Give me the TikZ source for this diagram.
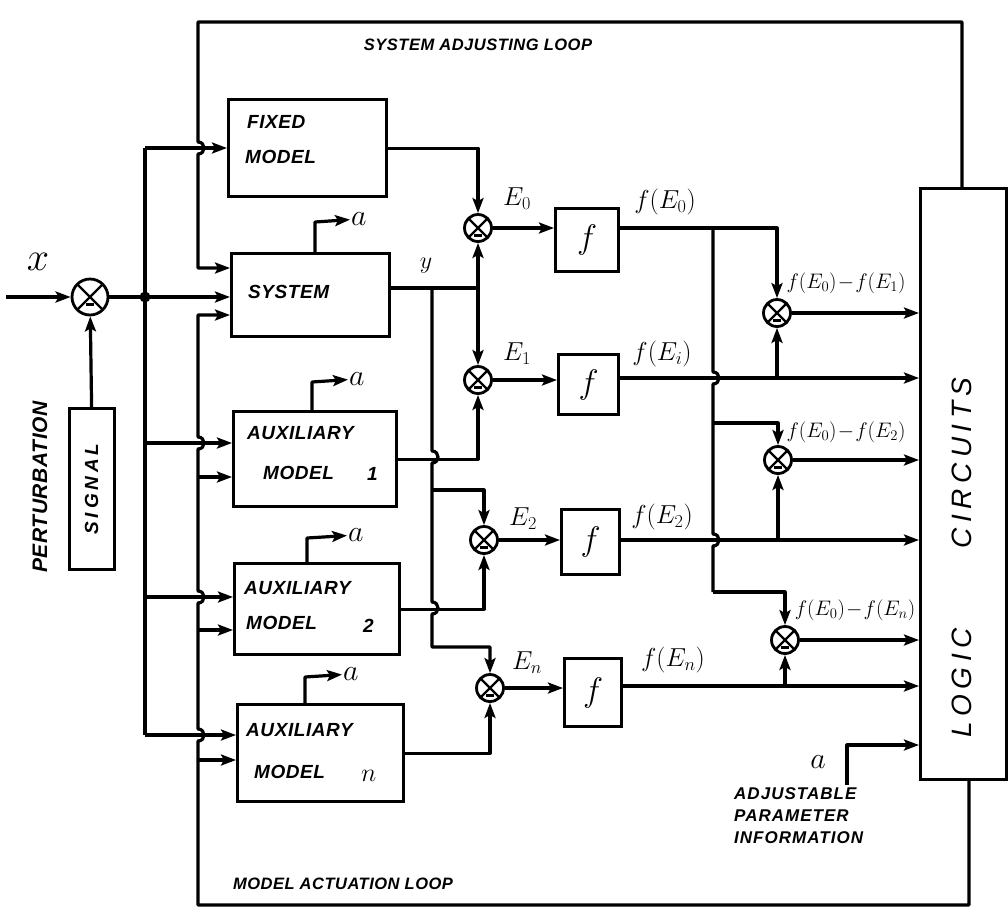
\RequirePackage{fix-cm}
\documentclass[tikz,border=0pt]{standalone}
\usepackage{fontspec}
\setmainfont{Liberation Sans}
\newfontfamily\hand[LetterSpace=3]{Liberation Sans}
\newfontfamily\handm[LetterSpace=6]{Liberation Sans}
\newfontfamily\handw[LetterSpace=20]{Liberation Sans}
\usetikzlibrary{arrows.meta}
\begin{document}
\begin{tikzpicture}[x=1pt,y=-1pt]
\tikzset{
  wire/.style={line width=3.2pt, line join=round},
  arr/.style={wire, -{Stealth[length=15pt,width=11pt,inset=3pt]}},
  blk/.style={draw, line width=3.2pt, anchor=north west, inner sep=0pt},
  sj/.style={circle, draw, line width=2.8pt, minimum size=27pt, inner sep=0pt,
    path picture={\draw[line width=2.2pt] (path picture bounding box.north west) -- (path picture bounding box.south east)
      (path picture bounding box.north east) -- (path picture bounding box.south west);
      \draw[line width=3pt] ([xshift=-4pt,yshift=-7pt]path picture bounding box.center) -- ++(8pt,0pt);}},
  txt/.style={font=\hand\bfseries\itshape\fontsize{19}{24}\selectfont, inner sep=1pt},
  ttl/.style={font=\hand\bfseries\itshape\fontsize{16.5}{20}\selectfont, inner sep=1pt},
  wtxt/.style={font=\handw\itshape\fontsize{28}{32}\selectfont, inner sep=1pt, rotate=90},
  mth/.style={font=\fontsize{26}{30}\selectfont, inner sep=1pt},
  flab/.style={font=\fontsize{26}{30}\selectfont, inner sep=1pt},
  smth/.style={font=\fontsize{21}{24}\selectfont, inner sep=1pt},
  fbox/.style={blk, font=\fontsize{34}{38}\selectfont},
  alab/.style={font=\fontsize{30}{32}\selectfont, inner sep=1pt}
}
\useasboundingbox (0,0) rectangle (1008,922);

% ---------------- blocks ----------------
\node[blk, minimum width=158pt, minimum height=97pt] (fixed) at (227,98) {};
\node[blk, minimum width=158pt, minimum height=83pt] (system) at (230,252) {};
\node[blk, minimum width=163pt, minimum height=95pt] (aux1) at (232,410) {};
\node[blk, minimum width=165pt, minimum height=91pt] (aux2) at (233,562) {};
\node[blk, minimum width=166pt, minimum height=97pt] (auxn) at (236,703) {};
\node[fbox, minimum width=63pt, minimum height=63pt] (f0) at (554,207) {$f$};
\node[fbox, minimum width=60pt, minimum height=60pt] (f1) at (557,353) {$f$};
\node[fbox, minimum width=58pt, minimum height=65pt] (f2) at (560,508) {$f$};
\node[fbox, minimum width=57pt, minimum height=68pt] (fn) at (563,657) {$f$};
\node[blk, minimum width=45pt, minimum height=161pt] (signal) at (67.5,407) {};
\node[blk, minimum width=86pt, minimum height=591pt] (logic) at (919,187) {};

% block labels
\node[txt, anchor=west] (lfixed1) at (246,122) {FIXED};
\node[txt, anchor=west] (lfixed2) at (244,157) {MODEL};
\node[txt, anchor=west] (lsys) at (247,292) {SYSTEM};
\node[txt, anchor=west] (la11) at (246,433) {AUXILIARY};
\node[txt, anchor=west] (la12) at (262,473) {MODEL};
\node[txt, anchor=west] (la13) at (366,474) {1};
\node[txt, anchor=west] (la21) at (243,588) {AUXILIARY};
\node[txt, anchor=west] (la22) at (245,623) {MODEL};
\node[txt, anchor=west] (la23) at (362,626) {2};
\node[txt, anchor=west] (lan1) at (245,730) {AUXILIARY};
\node[txt, anchor=west] (lan2) at (253,772) {MODEL};
\node[txt, anchor=west, font=\fontsize{26}{28}\selectfont] (lan3) at (360,776) {$n$};
\node[font=\handw\bfseries\itshape\fontsize{19}{24}\selectfont, rotate=90] (lsig) at (signal.center) {SIGNAL};
\node[wtxt] (llogic) at (962,683) {LOGIC};
\node[wtxt] (lcirc) at (962,463) {CIRCUITS};
\node[font=\hand\bfseries\itshape\fontsize{21}{26}\selectfont, rotate=90] (lpert) at (40,487) {PERTURBATION};
\node[ttl] (ltop) at (478,45) {SYSTEM ADJUSTING LOOP};
\node[ttl] (lbot) at (343,884) {MODEL ACTUATION LOOP};
\node[align=left, anchor=north west, inner sep=1pt, font=\handm\bfseries\itshape\fontsize{17}{22}\selectfont] (ladj) at (733,786) {ADJUSTABLE\\PARAMETER\\INFORMATION};

% ---------------- input side ----------------
\coordinate (xin) at (6,297);
\node[sj, minimum size=36pt] (sjin) at (90,297) {};
\node[font=\fontsize{40}{42}\selectfont] (lx) at (38,262) {$x$};
\coordinate (jn) at (145,297);
\coordinate (b0) at (145,148);
\coordinate (b1) at (145,443);
\coordinate (b2) at (145,597);
\coordinate (bn) at (145,735);
\draw[arr] (xin) -- (sjin);
\draw[arr] (signal.north) -- (sjin);
\draw[wire] (sjin) -- (jn);
\draw[arr] (jn) -- (system.west |- jn);
\fill (jn) circle[radius=5.5pt];
\draw[wire] (b0) -- (bn);
\draw[arr] (b0) -- (fixed.west |- b0);
\draw[arr] (b1) -- (aux1.west |- b1);
\draw[arr] (b2) -- (aux2.west |- b2);
\draw[arr] (bn) -- (auxn.west |- bn);

% ---------------- system adjusting loop (top) ----------------
\coordinate (tr) at (962,22);
\coordinate (tl) at (198,22);
\coordinate (ts) at (198,268);
\draw[arr] (logic.north -| tr) -- (tr) -- (tl) -- (198,142) .. controls (206,142) and (206,154) .. (198,154) -- (ts) -- (system.west |- ts);

% ---------------- model actuation loop (bottom) ----------------
\coordinate (br) at (969,905);
\coordinate (bl) at (198,905);
\coordinate (bs) at (198,315);
\draw[arr] (logic.south -| br) -- (br) -- (bl)
  -- (198,741) .. controls (206,741) and (206,729) .. (198,729)
  -- (198,603) .. controls (206,603) and (206,591) .. (198,591)
  -- (198,449) .. controls (206,449) and (206,437) .. (198,437)
  -- (bs) -- (system.west |- bs);
\coordinate (m1) at (198,477);
\coordinate (m2) at (198,630);
\coordinate (mn) at (198,760);
\draw[arr] (m1) -- (aux1.west |- m1);
\draw[arr] (m2) -- (aux2.west |- m2);
\draw[arr] (mn) -- (auxn.west |- mn);

% ---------------- a outputs ----------------
\coordinate (sa) at (315,222);
\node[alab, anchor=west] (asys) at (350,219) {$a$};
\draw[arr] (sa |- system.north) -- (sa) -- (asys);
\coordinate (sa1) at (312,382);
\node[alab, anchor=west] (aa1) at (348,379) {$a$};
\draw[arr] (sa1 |- aux1.north) -- (sa1) -- (aa1);
\coordinate (sa2) at (307,538);
\node[alab, anchor=west] (aa2) at (347,535) {$a$};
\draw[arr] (sa2 |- aux2.north) -- (sa2) -- (aa2);
\coordinate (san) at (305,677);
\node[alab, anchor=west] (aan) at (342,674) {$a$};
\draw[arr] (san |- auxn.north) -- (san) -- (aan);

% ---------------- summing junctions ----------------
\node[sj] (sj0) at (478,228) {};
\node[sj] (sj1) at (478,380) {};
\node[sj] (sj2) at (484,540) {};
\node[sj] (sjn) at (490,688) {};

\coordinate (so) at (478,288);
\coordinate (yt) at (432,288);
\node[font=\fontsize{24}{26}\selectfont, inner sep=1pt] (ly) at (426,266) {$y$};
\draw[wire] (system.east |- so) -- (so);
\draw[arr] (so) -- (sj0);
\draw[arr] (so) -- (sj1);
\coordinate (y2) at (432,490);
\coordinate (yn) at (432,647);
\draw[arr] (yt) -- (432,451) .. controls (440,451) and (440,463) .. (432,463)
  -- (432,602) .. controls (440,602) and (440,614) .. (432,614)
  -- (yn) -- (yn -| sjn) -- (sjn);
\draw[arr] (y2) -- (y2 -| sj2) -- (sj2);

\draw[arr] (fixed.east) -- (fixed.east -| sj0) -- (sj0);
\draw[arr] (aux1.east) -- (aux1.east -| sj1) -- (sj1);
\draw[arr] (aux2.east) -- (aux2.east -| sj2) -- (sj2);
\draw[arr] (auxn.east) -- (auxn.east -| sjn) -- (sjn);

\draw[arr] (sj0) -- (sj0 -| f0.west);
\draw[arr] (sj1) -- (sj1 -| f1.west);
\draw[arr] (sj2) -- (sj2 -| f2.west);
\draw[arr] (sjn) -- (sjn -| fn.west);
\node[mth] (le0) at (517,199) {$E_0$};
\node[mth] (le1) at (517,354) {$E_1$};
\node[mth] (le2) at (523,519) {$E_2$};
\node[mth] (len) at (527,663) {$E_n$};

% ---------------- difference junctions ----------------
\node[sj] (sjd1) at (777,313) {};
\node[sj] (sjd2) at (778,460) {};
\node[sj] (sjdn) at (785,640) {};

\coordinate (v0) at (713,228);
\coordinate (d1t) at (777,228);
\coordinate (v2) at (713,423);
\coordinate (vn) at (713,592);
\draw[arr] (f0.east |- v0) -- (d1t) -- (sjd1);
\draw[wire] (v0) -- (713,372) .. controls (721,372) and (721,384) .. (713,384)
  -- (713,534) .. controls (721,534) and (721,546) .. (713,546) -- (vn);
\draw[arr] (v2) -- (v2 -| sjd2) -- (sjd2);
\draw[arr] (vn) -- (vn -| sjdn) -- (sjdn);

\coordinate (h1) at (777,378);
\coordinate (h2) at (778,540);
\coordinate (hn) at (785,686);
\draw[arr] (f1.east |- h1) -- (logic.west |- h1);
\draw[arr] (h1) -- (sjd1);
\draw[arr] (f2.east |- h2) -- (logic.west |- h2);
\draw[arr] (h2) -- (sjd2);
\draw[arr] (fn.east |- hn) -- (logic.west |- hn);
\draw[arr] (hn) -- (sjdn);
\draw[arr] (sjd1) -- (sjd1 -| logic.west);
\draw[arr] (sjd2) -- (sjd2 -| logic.west);
\draw[arr] (sjdn) -- (sjdn -| logic.west);

\node[flab] (lf0) at (665,202) {$f(E_0)$};
\node[flab] (lf1) at (662,354) {$f(E_i)$};
\node[flab] (lf2) at (662,517) {$f(E_2)$};
\node[flab] (lfn) at (673,660) {$f(E_n)$};
\node[smth] (ld1) at (846,283) {$f(E_0)\!-\!f(E_1)$};
\node[smth] (ld2) at (846,432) {$f(E_0)\!-\!f(E_2)$};
\node[smth] (ldn) at (855,610) {$f(E_0)\!-\!f(E_n)$};

% ---------------- adjustable parameter input ----------------
\coordinate (ain) at (847,785);
\coordinate (ac) at (847,745);
\node[alab] (aadj) at (818,762) {$a$};
\draw[arr] (ain) -- (ac) -- (ac -| logic.west);
\end{tikzpicture}
\end{document}
